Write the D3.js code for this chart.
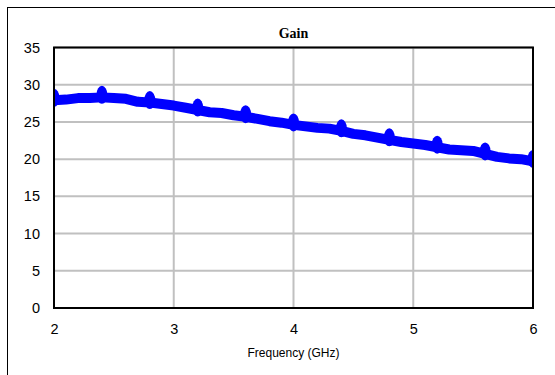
<!DOCTYPE html>
<html>
<head>
<meta charset="utf-8">
<script src="https://cdn.jsdelivr.net/npm/d3@7"></script>
<style>
  body { margin: 0; background: #fff; }
  svg { display: block; }
</style>
</head>
<body>
<div id="chart"></div>
<script>
// Gain vs frequency at 0.1 GHz steps
const freq = d3.range(0, 41).map(i => +(2 + i * 0.1).toFixed(1));
const gain = [
  27.9, 28.0, 28.2, 28.2, 28.3, 28.2, 28.1, 27.7, 27.6, 27.4,
  27.2, 26.9, 26.6, 26.3, 26.2, 25.9, 25.7, 25.4, 25.1, 24.9,
  24.6, 24.4, 24.2, 24.1, 23.8, 23.4, 23.2, 22.9, 22.6, 22.3,
  22.1, 21.9, 21.6, 21.3, 21.2, 21.1, 20.7, 20.3, 20.1, 20.0,
  19.7
];
const xTicks = [2, 3, 4, 5, 6];
const yTicks = [0, 5, 10, 15, 20, 25, 30, 35];

const W = 555, H = 375;
const margin = { top: 47.5, right: 22, bottom: 67, left: 54 },
    width = W - margin.left - margin.right,
    height = H - margin.top - margin.bottom;

const svg = d3.select("#chart")
    .append("svg")
    .attr("width", W)
    .attr("height", H);

// outer chart frame (right and bottom run off the page)
svg.append("rect")
    .attr("x", 7.5).attr("y", 7.5)
    .attr("width", W + 10).attr("height", H + 10)
    .attr("fill", "none")
    .attr("stroke", "#000")
    .attr("stroke-width", 1);

svg.append("clipPath")
    .attr("id", "plotClip")
    .append("rect")
    .attr("width", width).attr("height", height);

const g = svg.append("g")
    .attr("transform", `translate(${margin.left},${margin.top})`);

const x = d3.scaleLinear().domain([2, 6]).range([0, width]);
const y = d3.scaleLinear().domain([0, 35]).range([height, 0]);

// gridlines
g.append("g")
    .selectAll("line.gx")
    .data(xTicks)
    .enter().append("line")
    .attr("x1", d => x(d)).attr("x2", d => x(d))
    .attr("y1", 0).attr("y2", height)
    .attr("stroke", "#c0c0c0").attr("stroke-width", 2);

g.append("g")
    .selectAll("line.gy")
    .data(yTicks)
    .enter().append("line")
    .attr("x1", 0).attr("x2", width)
    .attr("y1", d => y(d)).attr("y2", d => y(d))
    .attr("stroke", "#c0c0c0").attr("stroke-width", 2);

// axes (labels only, no tick marks)
const xAxis = g.append("g")
    .attr("transform", `translate(0,${height})`)
    .call(d3.axisBottom(x).tickValues(xTicks).tickSize(0).tickPadding(16).tickFormat(d3.format("d")));
const yAxis = g.append("g")
    .call(d3.axisLeft(y).tickValues(yTicks).tickSize(0).tickPadding(14).tickFormat(d3.format("d")));
[xAxis, yAxis].forEach(a => {
    a.select(".domain").remove();
    a.selectAll("text")
        .attr("font-family", "Liberation Sans, Arial, sans-serif")
        .attr("font-size", 14.5)
        .attr("fill", "#000");
});

// the data line
const data = freq.map((f, i) => ({ f: f, v: gain[i] }));
const line = d3.line()
    .x(d => x(d.f))
    .y(d => y(d.v));

const plot = g.append("g").attr("clip-path", "url(#plotClip)");
plot.append("path")
    .datum(data)
    .attr("fill", "none")
    .attr("stroke", "#0000ff")
    .attr("stroke-width", 10)
    .attr("stroke-linejoin", "round")
    .attr("d", line);

// markers every 0.4 GHz
plot.selectAll(".dot")
    .data(data.filter((d, i) => i % 4 === 0))
    .enter().append("ellipse")
    .attr("cx", d => x(d.f))
    .attr("cy", d => y(d.v) - 2.5)
    .attr("rx", 5.5)
    .attr("ry", 9)
    .attr("fill", "#0000ff");

// plot border on top
g.append("rect")
    .attr("width", width).attr("height", height)
    .attr("fill", "none")
    .attr("stroke", "#000")
    .attr("stroke-width", 2);

// title and axis title
svg.append("text")
    .attr("x", margin.left + width / 2)
    .attr("y", 38)
    .attr("text-anchor", "middle")
    .attr("font-family", "Liberation Serif, Times New Roman, serif")
    .attr("font-weight", "bold")
    .attr("font-size", 14)
    .text("Gain");

svg.append("text")
    .attr("x", margin.left + width / 2)
    .attr("y", 357)
    .attr("text-anchor", "middle")
    .attr("font-family", "Liberation Sans, Arial, sans-serif")
    .attr("font-size", 12)
    .text("Frequency (GHz)");
</script>
</body>
</html>
